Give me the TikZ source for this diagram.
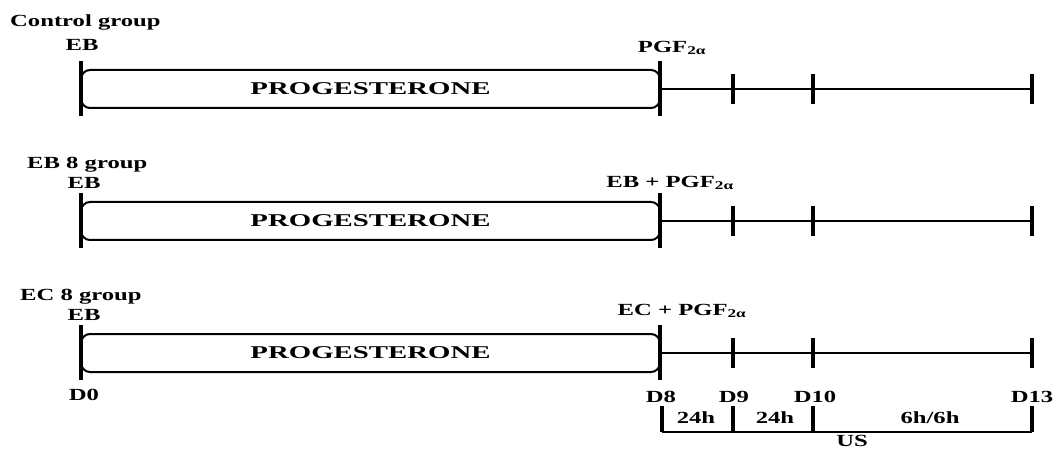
\documentclass[tikz,border=0pt]{standalone}
\usepackage{fontspec}
\setmainfont{Liberation Serif}[FakeStretch=1.45]
\newfontfamily\wideserif{Liberation Serif}[FakeStretch=1.6]

\begin{document}
\begin{tikzpicture}[x=1pt,y=-1pt,
    label/.style ={inner sep=0pt, font=\fontsize{17}{20}\selectfont\bfseries},
    progbox/.style ={draw, line width=2pt, rounded corners=9pt, minimum width=579pt,
      minimum height=38pt, inner sep=0pt, font=\fontsize{18}{20}\selectfont\wideserif\bfseries},
    bigtick/.style ={line width=3.5pt},
    tick/.style ={line width=3.5pt},
    bar/.style ={line width=2.2pt}]
   \useasboundingbox (0,0) rectangle (1058,449);

   % control group
   \node[label, anchor=west] (ga) at (10,22) {Control group};
   \coordinate (a0) at (81,89);
   \coordinate (a8) at (660,89);
   \coordinate (a9) at (733,89);
   \coordinate (a10) at (813,89);
   \coordinate (a13) at (1032,89);
   \node[progbox] (pa) at (370.5,89) {PROGESTERONE};
   \node[label] (ea) at (82,45) {EB};
   \node[label] (fa) at (672,48) {PGF\textsubscript{2α}};
   \draw[bar] (a8) to (a13);
   \draw[bigtick] (a0) ++(0,-28) -- ++(0,55);
   \draw[bigtick] (a8) ++(0,-28) -- ++(0,55);
   \draw[tick] (a9) ++(0,-15) -- ++(0,30);
   \draw[tick] (a10) ++(0,-15) -- ++(0,30);
   \draw[tick] (a13) ++(0,-15) -- ++(0,30);

   % EB 8 group
   \node[label, anchor=west] (gb) at (27,165) {EB 8 group};
   \coordinate (b0) at (81,221);
   \coordinate (b8) at (660,221);
   \coordinate (b9) at (733,221);
   \coordinate (b10) at (813,221);
   \coordinate (b13) at (1032,221);
   \node[progbox] (pb) at (370.5,221) {PROGESTERONE};
   \node[label] (eb) at (84,183) {EB};
   \node[label] (fb) at (670,183) {EB + PGF\textsubscript{2α}};
   \draw[bar] (b8) to (b13);
   \draw[bigtick] (b0) ++(0,-28) -- ++(0,55);
   \draw[bigtick] (b8) ++(0,-28) -- ++(0,55);
   \draw[tick] (b9) ++(0,-15) -- ++(0,30);
   \draw[tick] (b10) ++(0,-15) -- ++(0,30);
   \draw[tick] (b13) ++(0,-15) -- ++(0,30);

   % EC 8 group
   \node[label, anchor=west] (gc) at (20,297) {EC 8 group};
   \coordinate (c0) at (81,353);
   \coordinate (c8) at (660,353);
   \coordinate (c9) at (733,353);
   \coordinate (c10) at (813,353);
   \coordinate (c13) at (1032,353);
   \node[progbox] (pc) at (370.5,353) {PROGESTERONE};
   \node[label] (ec) at (84,315) {EB};
   \node[label] (fc) at (682,311) {EC + PGF\textsubscript{2α}};
   \draw[bar] (c8) to (c13);
   \draw[bigtick] (c0) ++(0,-28) -- ++(0,55);
   \draw[bigtick] (c8) ++(0,-28) -- ++(0,55);
   \draw[tick] (c9) ++(0,-15) -- ++(0,30);
   \draw[tick] (c10) ++(0,-15) -- ++(0,30);
   \draw[tick] (c13) ++(0,-15) -- ++(0,30);

   % days
   \node[label] (d0) at (84,395) {D0};
   \node[label] (d8) at (661,397) {D8};
   \node[label] (d9) at (734,397) {D9};
   \node[label] (d10) at (815,397) {D10};
   \node[label] (d13) at (1032,397) {D13};

   % sampling intervals
   \coordinate (u8) at (662,432);
   \coordinate (u9) at (733,432);
   \coordinate (u10) at (813,432);
   \coordinate (u13) at (1032,432);
   \draw[bar] (u8) to (u13);
   \draw[tick] (u8) ++(0,-26) -- ++(0,26);
   \draw[tick] (u9) ++(0,-26) -- ++(0,26);
   \draw[tick] (u10) ++(0,-26) -- ++(0,26);
   \draw[tick] (u13) ++(0,-26) -- ++(0,26);
   \node[label] (h1) at (696,418) {24h};
   \node[label] (h2) at (775,418) {24h};
   \node[label] (h3) at (930,418) {6h/6h};
   \node[label] (us) at (852,441) {US};
 \end{tikzpicture}
\end{document}
